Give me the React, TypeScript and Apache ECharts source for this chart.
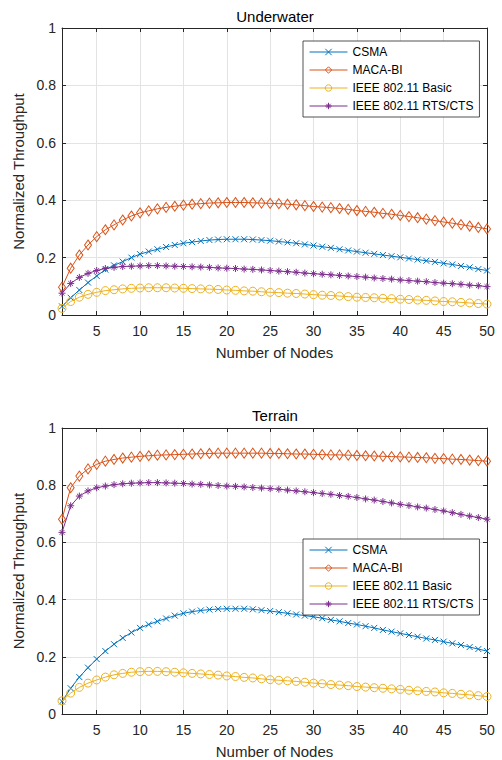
import React, { useEffect, useRef } from 'react';
import * as echarts from 'echarts';

const nodes = [1, 2, 3, 4, 5, 6, 7, 8, 9, 10, 11, 12, 13, 14, 15, 16, 17, 18, 19, 20, 21, 22, 23, 24, 25, 26, 27, 28, 29, 30, 31, 32, 33, 34, 35, 36, 37, 38, 39, 40, 41, 42, 43, 44, 45, 46, 47, 48, 49, 50];
const xTicks = [5, 10, 15, 20, 25, 30, 35, 40, 45, 50];
const seriesNames = ['CSMA', 'MACA-BI', 'IEEE 802.11 Basic', 'IEEE 802.11 RTS/CTS'];
const panelTitles = ['Underwater', 'Terrain'];

// Underwater
const uwCsma = [0.030, 0.060, 0.087, 0.113, 0.136, 0.158, 0.173, 0.186, 0.200, 0.212, 0.221, 0.229, 0.237, 0.244, 0.250, 0.254, 0.258, 0.261, 0.263, 0.264, 0.264, 0.264, 0.263, 0.261, 0.259, 0.256, 0.253, 0.250, 0.246, 0.242, 0.238, 0.234, 0.229, 0.225, 0.221, 0.217, 0.213, 0.209, 0.205, 0.201, 0.197, 0.193, 0.189, 0.185, 0.180, 0.176, 0.171, 0.166, 0.160, 0.155];
const uwMaca = [0.097, 0.163, 0.209, 0.244, 0.273, 0.297, 0.314, 0.331, 0.345, 0.356, 0.363, 0.370, 0.375, 0.379, 0.383, 0.386, 0.388, 0.390, 0.391, 0.392, 0.392, 0.392, 0.391, 0.390, 0.389, 0.388, 0.386, 0.384, 0.381, 0.378, 0.376, 0.374, 0.371, 0.368, 0.364, 0.361, 0.358, 0.354, 0.351, 0.347, 0.343, 0.339, 0.334, 0.329, 0.324, 0.320, 0.315, 0.310, 0.305, 0.300];
const uwBasic = [0.023, 0.047, 0.062, 0.072, 0.079, 0.085, 0.088, 0.091, 0.093, 0.094, 0.095, 0.095, 0.095, 0.094, 0.093, 0.092, 0.091, 0.090, 0.089, 0.087, 0.086, 0.084, 0.083, 0.081, 0.079, 0.078, 0.076, 0.075, 0.073, 0.071, 0.069, 0.068, 0.066, 0.064, 0.062, 0.061, 0.060, 0.058, 0.057, 0.055, 0.054, 0.052, 0.051, 0.049, 0.047, 0.046, 0.044, 0.042, 0.040, 0.038];
const uwRts = [0.076, 0.110, 0.131, 0.145, 0.155, 0.162, 0.166, 0.169, 0.170, 0.171, 0.172, 0.172, 0.171, 0.170, 0.169, 0.168, 0.167, 0.166, 0.164, 0.163, 0.162, 0.160, 0.159, 0.157, 0.155, 0.153, 0.151, 0.149, 0.146, 0.144, 0.142, 0.140, 0.138, 0.136, 0.134, 0.132, 0.129, 0.127, 0.125, 0.122, 0.120, 0.118, 0.116, 0.113, 0.111, 0.109, 0.107, 0.104, 0.102, 0.099];

// Terrain
const trCsma = [0.044, 0.090, 0.129, 0.162, 0.192, 0.220, 0.244, 0.266, 0.285, 0.301, 0.313, 0.324, 0.334, 0.344, 0.352, 0.358, 0.362, 0.365, 0.367, 0.368, 0.368, 0.368, 0.366, 0.363, 0.360, 0.356, 0.352, 0.348, 0.344, 0.340, 0.335, 0.329, 0.324, 0.318, 0.313, 0.307, 0.301, 0.294, 0.288, 0.282, 0.276, 0.270, 0.264, 0.259, 0.253, 0.247, 0.241, 0.234, 0.227, 0.220];
const trMaca = [0.681, 0.791, 0.832, 0.857, 0.873, 0.884, 0.890, 0.895, 0.898, 0.901, 0.903, 0.905, 0.906, 0.907, 0.908, 0.909, 0.910, 0.911, 0.912, 0.912, 0.912, 0.912, 0.912, 0.912, 0.911, 0.911, 0.910, 0.909, 0.909, 0.908, 0.907, 0.906, 0.906, 0.905, 0.904, 0.903, 0.902, 0.901, 0.900, 0.899, 0.898, 0.897, 0.896, 0.894, 0.893, 0.891, 0.890, 0.888, 0.886, 0.884];
const trBasic = [0.046, 0.073, 0.093, 0.108, 0.119, 0.129, 0.137, 0.142, 0.146, 0.148, 0.149, 0.149, 0.148, 0.146, 0.144, 0.142, 0.140, 0.138, 0.136, 0.133, 0.131, 0.128, 0.126, 0.123, 0.120, 0.118, 0.116, 0.114, 0.111, 0.108, 0.106, 0.103, 0.101, 0.099, 0.096, 0.094, 0.092, 0.090, 0.088, 0.086, 0.083, 0.081, 0.079, 0.077, 0.074, 0.072, 0.069, 0.067, 0.064, 0.061];
const trRts = [0.635, 0.728, 0.762, 0.780, 0.791, 0.797, 0.802, 0.805, 0.807, 0.808, 0.809, 0.809, 0.808, 0.807, 0.806, 0.804, 0.803, 0.801, 0.799, 0.797, 0.796, 0.794, 0.792, 0.790, 0.788, 0.786, 0.783, 0.780, 0.777, 0.774, 0.771, 0.768, 0.764, 0.761, 0.757, 0.752, 0.748, 0.743, 0.738, 0.733, 0.729, 0.724, 0.720, 0.715, 0.710, 0.704, 0.698, 0.692, 0.687, 0.681];

const FONT = '"Liberation Sans", Arial, Helvetica, sans-serif';
const COLORS = ['#0072BD', '#D95319', '#EDB120', '#7E2F8E'];
const SYMBOLS = [
  'path://M0,0L10,10M10,0L0,10',
  'diamond',
  'circle',
  'path://M5,0L5,10M0,5L10,5M1.6,1.6L8.4,8.4M8.4,1.6L1.6,8.4',
];
const SYMBOL_SIZES = [6, [7, 10], 8, 7];
const AX = '#262626';
const GRIDC = '#e3e3e3';

function buildOption() {
  const grids = [
    { left: 62, right: 15, top: 28, height: 287 },
    { left: 62, right: 15, top: 428, height: 288 },
  ];
  const xAxes: any[] = [];
  const yAxes: any[] = [];
  [0, 1].forEach((gi) => {
    xAxes.push({
      type: 'value', gridIndex: gi, min: 1, max: 50,
      axisLine: { show: true, onZero: false, lineStyle: { color: AX, width: 1 } },
      axisTick: { show: true, inside: true, length: 4, customValues: xTicks, lineStyle: { color: AX } },
      axisLabel: { customValues: xTicks, color: AX, fontSize: 14, fontFamily: FONT, margin: 9 },
      splitLine: { show: true, customValues: xTicks, lineStyle: { color: GRIDC, width: 1 } },
      name: 'Number of Nodes', nameLocation: 'middle', nameGap: 30,
      nameTextStyle: { color: AX, fontSize: 15, fontFamily: FONT },
    });
    xAxes.push({
      type: 'value', gridIndex: gi, min: 1, max: 50, position: 'top',
      axisLine: { show: true, onZero: false, lineStyle: { color: AX, width: 1 } },
      axisTick: { show: true, inside: true, length: 4, customValues: xTicks, lineStyle: { color: AX } },
      axisLabel: { show: false },
      splitLine: { show: false },
    });
    yAxes.push({
      type: 'value', gridIndex: gi, min: 0, max: 1, interval: 0.2,
      axisLine: { show: true, onZero: false, lineStyle: { color: AX, width: 1 } },
      axisTick: { show: true, inside: true, length: 4, lineStyle: { color: AX } },
      axisLabel: { color: AX, fontSize: 14, fontFamily: FONT, margin: 6, formatter: (v: number) => String(+v.toFixed(1)) },
      splitLine: { show: true, lineStyle: { color: GRIDC, width: 1 } },
      name: 'Normalized Throughput', nameLocation: 'middle', nameGap: 32,
      nameTextStyle: { color: AX, fontSize: 15, fontFamily: FONT },
    });
    yAxes.push({
      type: 'value', gridIndex: gi, min: 0, max: 1, interval: 0.2, position: 'right',
      axisLine: { show: true, onZero: false, lineStyle: { color: AX, width: 1 } },
      axisTick: { show: true, inside: true, length: 4, lineStyle: { color: AX } },
      axisLabel: { show: false },
      splitLine: { show: false },
    });
  });

  const panels = [
    [uwCsma, uwMaca, uwBasic, uwRts],
    [trCsma, trMaca, trBasic, trRts],
  ];
  const series: any[] = [];
  panels.forEach((vals, gi) => {
    vals.forEach((arr, si) => {
      series.push({
        type: 'line', name: seriesNames[si],
        xAxisIndex: gi * 2, yAxisIndex: gi * 2,
        data: nodes.map((n, i) => [n, arr[i]]),
        symbol: SYMBOLS[si], symbolSize: SYMBOL_SIZES[si], showSymbol: true,
        lineStyle: { color: COLORS[si], width: 1 },
        itemStyle: { color: 'rgba(255,255,255,0)', borderColor: COLORS[si], borderWidth: 1 },
        emphasis: { disabled: true },
        z: 2 + si,
      });
    });
  });

  const legendBase = {
    orient: 'vertical', left: 303, backgroundColor: '#fff',
    borderColor: AX, borderWidth: 0.8, borderRadius: 0,
    padding: [5, 6, 5, 6], itemWidth: 38, itemHeight: 8, itemGap: 6,
    lineStyle: { width: 1 },
    itemStyle: { borderWidth: 1 },
    textStyle: { color: '#000', fontSize: 12, fontFamily: FONT },
    data: seriesNames, selectedMode: false,
  };

  return {
    animation: false,
    backgroundColor: '#fff',
    grid: grids,
    xAxis: xAxes,
    yAxis: yAxes,
    series,
    legend: [
      { ...legendBase, top: 41 },
      { ...legendBase, top: 539 },
    ],
    graphic: [
      { type: 'text', x: 275, y: 16, style: { text: panelTitles[0], fill: '#000', font: `15px ${FONT}`, textAlign: 'center', textVerticalAlign: 'middle' } },
      { type: 'text', x: 275, y: 415, style: { text: panelTitles[1], fill: '#000', font: `15px ${FONT}`, textAlign: 'center', textVerticalAlign: 'middle' } },
    ],
  };
}

export default function App() {
  const ref = useRef<HTMLDivElement>(null);
  useEffect(() => {
    document.body.style.margin = '0';
    if (!ref.current) return;
    const chart = echarts.init(ref.current, undefined, { renderer: 'svg' });
    chart.setOption(buildOption() as any);
    return () => chart.dispose();
  }, []);
  return <div ref={ref} style={{ width: 502, height: 760 }} />;
}
